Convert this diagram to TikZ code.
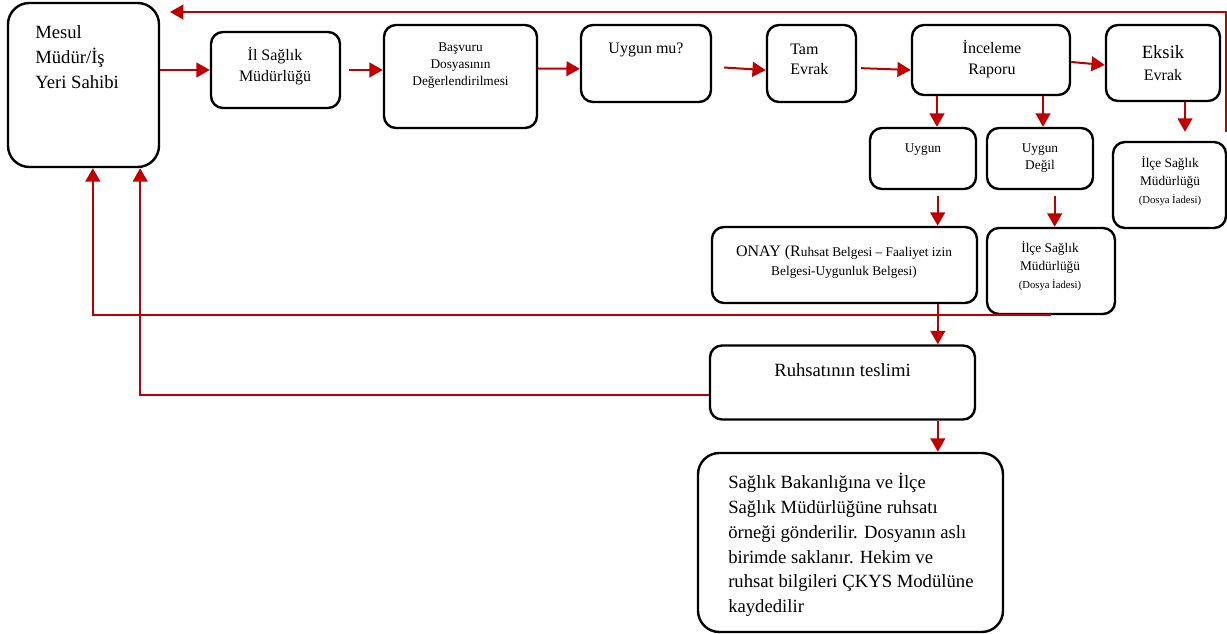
\documentclass[tikz,border=0pt]{standalone}
\usepackage{fontspec}
\setmainfont{Liberation Serif}
\usetikzlibrary{arrows.meta}
\definecolor{arrowred}{HTML}{C00000}

\begin{document}
\begin{tikzpicture}
  [x=0.75pt, y=-0.75pt]
  \tikzstyle{box} = [draw=black, line width=1.8pt, rounded corners=9pt, inner sep=0pt];
  \tikzstyle{big_box} = [box, rounded corners=16pt];
  \tikzstyle{txt} = [inner sep=0pt, align=center];
  \tikzstyle{arr} = [draw=arrowred, line width=1.5pt, -{Triangle[length=10pt, width=11pt]}];

  \useasboundingbox (0, 0) rectangle (1227, 634);

  \node[big_box, minimum width=113.25pt, minimum height=123pt] (mesul) at (83.5, 85) {};
  \node[box, minimum width=96.75pt, minimum height=57pt] (il) at (275.5, 70) {};
  \node[box, minimum width=114.75pt, minimum height=77.25pt] (bas) at (460.5, 76.5) {};
  \node[box, minimum width=97.5pt, minimum height=57.75pt] (uyg) at (646, 63.5) {};
  \node[box, minimum width=66.75pt, minimum height=57.75pt] (tam) at (811.5, 63.5) {};
  \node[box, minimum width=118.5pt, minimum height=52.5pt] (inc) at (991, 60) {};
  \node[box, minimum width=85.5pt, minimum height=57pt] (eks) at (1163, 63) {};

  \node[box, minimum width=79.5pt, minimum height=45.75pt] (uygun) at (923, 158.5) {};
  \node[box, minimum width=79.5pt, minimum height=45.75pt] (deg) at (1040, 158.5) {};
  \node[box, minimum width=84.75pt, minimum height=64.5pt] (ilce1) at (1169.5, 185) {};

  \node[box, minimum width=198.75pt, minimum height=57pt] (onay) at (844.5, 265) {};
  \node[box, minimum width=96pt, minimum height=64.5pt] (ilce2) at (1051, 271) {};
  \node[box, minimum width=198.75pt, minimum height=55.5pt] (ruh) at (842.5, 382.5) {};
  \node[big_box, minimum width=228.75pt, minimum height=134.25pt] (sag) at (850.5, 542.5) {};

  % texts
  \node[txt, anchor=west, align=left, font=\fontsize{14}{18.75}\selectfont] (mesul_t) at (35, 57) {Mesul\\Müdür/İş\\Yeri Sahibi};
  \node[txt, font=\fontsize{12}{15.5}\selectfont] (il_t) at (275, 66) {İl Sağlık\\Müdürlüğü};
  \node[txt, font=\fontsize{10}{12.75}\selectfont] (bas_t) at (460.5, 66) {Başvuru\\Dosyasının\\Değerlendirilmesi};
  \node[txt, font=\fontsize{12}{15}\selectfont] (uyg_t) at (646, 50) {Uygun mu?};
  \node[txt, anchor=west, align=left, font=\fontsize{12}{15}\selectfont] (tam_t) at (790, 59) {Tam\\Evrak};
  \node[txt, font=\fontsize{12}{15.75}\selectfont] (inc_t) at (992, 59.5) {İnceleme\\Raporu};
  \node[txt, font=\fontsize{12}{16.5}\selectfont] (eks_t) at (1163, 63) {{\fontsize{14}{16.5}\selectfont Eksik}\\Evrak};
  \node[txt, font=\fontsize{10}{12.75}\selectfont] (uygun_t) at (923, 150) {Uygun};
  \node[txt, font=\fontsize{10}{12.75}\selectfont] (deg_t) at (1040, 158.5) {Uygun\\Değil};
  \node[txt, font=\fontsize{10}{13.5}\selectfont] (ilce1_t) at (1170, 181) {İlçe Sağlık\\Müdürlüğü\\{\fontsize{8}{12}\selectfont (Dosya İadesi)}};
  \node[txt, font=\fontsize{10}{14.25}\selectfont] (onay_t) at (844, 261.5) {{\fontsize{12}{14.25}\selectfont ONAY (R}uhsat Belgesi – Faaliyet izin\\Belgesi-Uygunluk Belgesi)};
  \node[txt, font=\fontsize{10}{13.5}\selectfont] (ilce2_t) at (1050, 266.5) {İlçe Sağlık\\Müdürlüğü\\{\fontsize{8}{12}\selectfont (Dosya İadesi)}};
  \node[txt, font=\fontsize{14}{16}\selectfont] (ruh_t) at (842.5, 370) {Ruhsatının teslimi};
  \node[txt, anchor=west, align=left, font=\fontsize{14}{18.6}\selectfont] (sag_t) at (728, 545) {Sağlık Bakanlığına ve İlçe\\Sağlık Müdürlüğüne ruhsatı\\örneği gönderilir. Dosyanın aslı\\birimde saklanır. Hekim ve\\ruhsat bilgileri ÇKYS Modülüne\\kaydedilir};

  % top row
  \draw[arr] (mesul.east |- il.west) -- (il.west);
  \draw[arr] ([xshift=6pt]il.east) -- (bas.west |- il.east);
  \draw[arr] ([yshift=6pt]bas.east) -- ([yshift=-4pt]uyg.west);
  \draw[arr] ([xshift=9pt, yshift=-3pt]uyg.east) -- ([yshift=-5pt]tam.west);
  \draw[arr] ([xshift=3pt, yshift=-3.5pt]tam.east) -- ([yshift=-7.5pt]inc.west);
  \draw[arr] ([yshift=-1.5pt]inc.east) -- ([yshift=-1.5pt]eks.west);

  % down arrows
  \draw[arr] ([xshift=-40.5pt]inc.south) -- ([xshift=-40.5pt]inc.south |- uygun.north);
  \draw[arr] ([xshift=39pt]inc.south) -- ([xshift=39pt]inc.south |- deg.north);
  \draw[arr] ([xshift=16.5pt]eks.south) -- ([xshift=16.5pt, yshift=6.75pt]eks.south |- ilce1.north);
  \draw[arr] ([xshift=11pt, yshift=-4.5pt]uygun.south) -- ([xshift=11pt]uygun.south |- onay.north);
  \draw[arr] ([xshift=11pt, yshift=-4.5pt]deg.south) -- ([xshift=11pt]deg.south |- ilce2.north);
  \draw[arr] ([xshift=70pt]onay.south) -- ([xshift=70pt]onay.south |- ruh.north);
  \draw[arr] ([xshift=70pt]onay.south |- ruh.south) -- ([xshift=70pt]onay.south |- sag.north);

  % back to mesul
  \coordinate (back) at (170, 12);
  \draw[arr] ([xshift=-1pt, yshift=6.75pt]ilce1.north east) |- (back);
  \draw[arr] (ilce2.south) -| ([xshift=7pt]mesul.south);
  \draw[arr] ([yshift=-9pt]ruh.west) -| ([xshift=42.5pt]mesul.south);

\end{tikzpicture}
\end{document}
